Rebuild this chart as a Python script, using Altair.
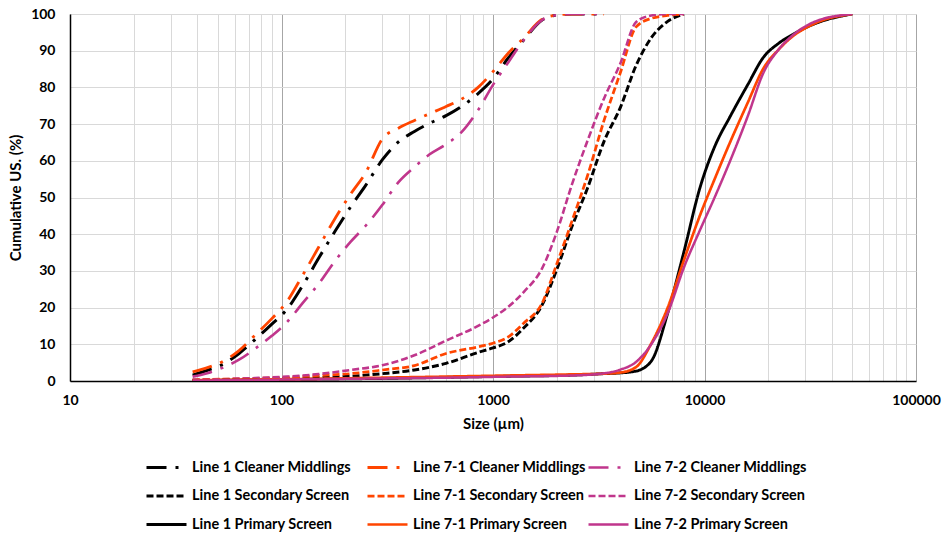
import altair as alt
import pandas as pd

SERIES = [
    "Line 1 Cleaner Middlings", "Line 1 Secondary Screen", "Line 1 Primary Screen",
    "Line 7-1 Cleaner Middlings", "Line 7-1 Secondary Screen", "Line 7-1 Primary Screen",
    "Line 7-2 Cleaner Middlings", "Line 7-2 Secondary Screen", "Line 7-2 Primary Screen",
]
COLORS = ["#000000"] * 3 + ["#FF4500"] * 3 + ["#C0368C"] * 3
DASHES = [[20, 9, 3, 9], [7, 3], [1, 0]] * 3
WIDTHS = [3.0, 2.5, 2.5] * 3

# Cleaner middlings
CM_SIZES = [38, 45, 53, 63, 75, 90, 106, 125, 150, 180, 212, 250, 300, 355, 425, 500,
            600, 710, 850, 1000, 1180, 1400, 1700, 2000, 2360, 2800, 3350]
L1_CM = [1.6, 3.0, 4.6, 7.5, 11.3, 15.5, 19.5, 25.7, 33.5, 41, 47.4, 53.3, 60.3, 65, 68, 70.2,
         72.3, 74.8, 78.3, 82.3, 88, 93, 98.3, 99.7, 100, 100, 100]
L71_CM = [2.5, 3.7, 5.4, 8.3, 12.5, 17.0, 21.6, 28.5, 36.5, 44.5, 50.9, 56.8, 66, 68.8, 71, 72.8,
          74.8, 76.8, 80, 84.3, 89.3, 93.5, 98.5, 99.7, 100, 100, 100]
L72_CM = [1.2, 2.2, 3.7, 5.8, 8.8, 12.3, 16.0, 21, 26.5, 32.9, 37.9, 42.3, 48, 54, 58.3, 61.7,
          64.5, 67.8, 73.8, 80.7, 86.8, 93, 98.3, 99.7, 100, 100, 100]

# Secondary screens
SS_SIZES = [38, 53, 75, 106, 150, 212, 300, 425, 600, 850, 1000, 1180, 1400, 1700, 2000, 2360,
            2800, 3350, 4000, 4750, 5600, 6700, 8000]
L1_SS = [0.2, 0.3, 0.5, 0.7, 0.9, 1.3, 2.0, 3.0, 4.8, 7.8, 9.0, 10.7, 14.5, 20.5, 30.3, 42,
         52.6, 65.3, 74.5, 86, 93.5, 98.0, 100]
L71_SS = [0.3, 0.5, 0.7, 1.0, 1.5, 2.0, 3.0, 4.2, 7.5, 9.3, 10.3, 12.0, 15.8, 21.0, 31.8, 43.5,
          56.0, 71.0, 84, 96.5, 98.8, 99.6, 100]
L72_SS = [0.3, 0.5, 0.8, 1.2, 1.9, 3.0, 4.3, 7.0, 11.0, 15.0, 17.3, 20.2, 24.3, 30.5, 40.5, 53.5,
          65.5, 77.0, 86.5, 97.8, 99.6, 100, 100]

# Primary screens
PS_SIZES = [38, 75, 150, 300, 600, 1180, 2360, 3350, 4000, 4750, 5600, 6700, 8000, 9500, 11200,
            13200, 16000, 19000, 22400, 26500, 31500, 37500, 45000, 50000]
L1_PS = [0.1, 0.3, 0.5, 0.7, 1.0, 1.3, 1.6, 2.0, 2.2, 2.7, 5.4, 18.5, 35.3, 52.5, 64,
         72, 80.7, 88.2, 92, 94.6, 96.8, 98.4, 99.5, 100]
L71_PS = [0.2, 0.4, 0.6, 0.9, 1.2, 1.5, 1.8, 2.0, 2.3, 3.8, 10.2, 20, 33, 45, 55.2,
          65, 75.8, 85.2, 90.3, 94.2, 96.8, 98.6, 99.6, 100]
L72_PS = [0.1, 0.3, 0.5, 0.7, 0.9, 1.2, 1.5, 2.1, 3.1, 5.2, 10, 18.5, 31, 41, 50.2,
          59.9, 72.1, 84, 90.3, 94.5, 97.3, 98.9, 99.7, 100]

X_TICKS = [m * 10 ** e for e in range(1, 5) for m in range(1, 10)] + [100000]
Y_TICKS = list(range(0, 101, 10))

groups = [
    ("Line 1 Cleaner Middlings", CM_SIZES, L1_CM),
    ("Line 7-1 Cleaner Middlings", CM_SIZES, L71_CM),
    ("Line 7-2 Cleaner Middlings", CM_SIZES, L72_CM),
    ("Line 1 Secondary Screen", SS_SIZES, L1_SS),
    ("Line 7-1 Secondary Screen", SS_SIZES, L71_SS),
    ("Line 7-2 Secondary Screen", SS_SIZES, L72_SS),
    ("Line 1 Primary Screen", PS_SIZES, L1_PS),
    ("Line 7-1 Primary Screen", PS_SIZES, L71_PS),
    ("Line 7-2 Primary Screen", PS_SIZES, L72_PS),
]
rows = []
for name, sizes, vals in groups:
    for s, v in zip(sizes, vals):
        rows.append({"series": name, "size": s, "pct": v})
df = pd.DataFrame(rows)

FONT = "Lato"
decade = "abs(log(datum.value)/LN10 - round(log(datum.value)/LN10)) < 0.000001"

x = alt.X(
    "size:Q",
    scale=alt.Scale(type="log", domain=[10, 100000], nice=False),
    axis=alt.Axis(
        values=X_TICKS, format="d",
        labelExpr=f"({decade}) ? datum.label : ''",
        labelOverlap=False, labelFlush=False, grid=True,
        gridColor={"condition": {"test": decade, "value": "#A6A6A6"}, "value": "#D9D9D9"},
        gridWidth=1, ticks=False, domainColor="#000000", domainWidth=1.5,
        title="Size (µm)", labelPadding=12, titlePadding=9,
        labelFont=FONT, labelFontSize=14, labelFontWeight="bold", labelColor="#000000",
        titleFont=FONT, titleFontSize=15, titleFontWeight="bold", titleColor="#000000",
    ),
)
y = alt.Y(
    "pct:Q",
    scale=alt.Scale(domain=[0, 100], nice=False),
    axis=alt.Axis(
        values=Y_TICKS, grid=True, gridColor="#D9D9D9", gridWidth=1, ticks=False,
        domainColor="#000000", domainWidth=1.5, labelFlush=False,
        title="Cumulative US. (%)", labelPadding=15, titlePadding=7,
        labelFont=FONT, labelFontSize=14, labelFontWeight="bold", labelColor="#000000",
        titleFont=FONT, titleFontSize=15, titleFontWeight="bold", titleColor="#000000",
    ),
)

legend = alt.Legend(
    orient="none", legendX=75, legendY=432, columns=3, title=None,
    symbolType="stroke", symbolSize=1600, symbolStrokeWidth=2.5,
    labelFont=FONT, labelFontSize=14.5, labelFontWeight="bold", labelColor="#000000",
    labelOffset=4, rowPadding=0.5, columnPadding=-4, gridAlign="all", padding=0,
    labelLimit=400,
)

chart = alt.Chart(df).mark_line(interpolate="monotone", clip=True).encode(
    x=x,
    y=y,
    color=alt.Color("series:N", scale=alt.Scale(domain=SERIES, range=COLORS), legend=legend),
    strokeDash=alt.StrokeDash("series:N", scale=alt.Scale(domain=SERIES, range=DASHES), legend=legend),
    strokeWidth=alt.StrokeWidth("series:N", scale=alt.Scale(domain=SERIES, range=WIDTHS), legend=None),
    order=alt.Order("size:Q"),
).properties(
    width=846, height=367,
    autosize=alt.AutoSizeParams(type="none"),
    padding={"left": 70, "top": 14, "right": 26, "bottom": 154},
).configure_view(stroke=None).configure(background="#ffffff")

chart.save("out.html", embed_options={"renderer": "svg", "actions": False})
